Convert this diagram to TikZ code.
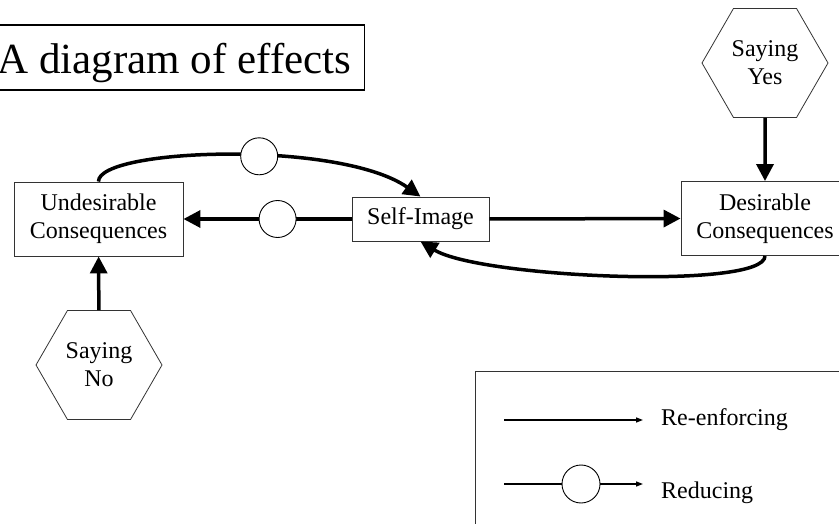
\documentclass[tikz,border=0pt]{standalone}
\usepackage{fontspec}
\setmainfont{Liberation Serif}
\usetikzlibrary{arrows.meta,shapes.geometric}

\begin{document}
\begin{tikzpicture}[x=1pt,y=-1pt,
    box/.style={draw=black!80,line width=0.9pt,align=center,inner sep=0pt,
      font=\fontsize{24}{28}\selectfont},
    hexa/.style={draw=black!80,line width=0.8pt,regular polygon,regular polygon sides=6,
      minimum size=126pt,inner sep=0pt,align=center,font=\fontsize{24}{28}\selectfont},
    effect/.style={line width=3.5pt,-{Triangle[length=17pt,width=17pt]}},
    reduce/.style={circle,draw,fill=white,line width=0.9pt,minimum size=37pt,inner sep=0pt},
    legline/.style={line width=1.3pt,-{Triangle[length=7pt,width=5pt]}},
    legtext/.style={anchor=base west,inner sep=0pt,font=\fontsize{24}{28}\selectfont}]

    \useasboundingbox (0,0) rectangle (839,524);
    \clip (0,0) rectangle (839,524);

    % Title
    \node[draw,line width=1.5pt,anchor=east,inner xsep=13pt,inner ysep=12.5pt,
      text height=36.5pt,text depth=3.5pt,font=\fontsize{43}{50}\selectfont]
      (title) at (365,57.5) {A diagram of effects};

    % Boxes and hexagons
    \node[box,minimum width=169pt,minimum height=74pt] (undes) at (98.5,219) {Undesirable\\Consequences};
    \node[box,minimum width=137pt,minimum height=44pt] (self) at (420.5,219) {Self-Image};
    \node[box,minimum width=168pt,minimum height=74pt] (des) at (765,218.5) {Desirable\\Consequences};
    \node[hexa] (yes) at (765,63) {Saying\\Yes};
    \node[hexa] (no) at (99,365) {Saying\\No};

    % Effects
    \draw[effect] (yes) -- (des);
    \draw[effect] (no) -- (undes);
    \draw[effect] (self.east) -- (des.west);
    \draw[effect] (self.west) -- (undes.east) node[reduce,pos=0.44] (redMid) {};
    \draw[effect] (undes.north) .. controls (98,148) and (340,140) .. (self.north)
      node[reduce,pos=0.57] (redTop) {};
    \draw[effect] (des.south) .. controls (765,290) and (480,278) .. (self.south);

    % Legend
    \draw[draw=black!80,line width=0.9pt] (475,371) rectangle (860,540);
    \coordinate (reA) at (504,420);
    \coordinate (reB) at (643,420);
    \coordinate (rdA) at (504,484);
    \coordinate (rdB) at (643,484);
    \draw[legline] (reA) -- (reB);
    \draw[legline] (rdA) -- (rdB) node[reduce,minimum size=38pt,pos=0.554] (redLeg) {};
    \node[legtext] (reTxt) at (661,425) {Re-enforcing};
    \node[legtext] (rdTxt) at (661,498) {Reducing};

\end{tikzpicture}
\end{document}
